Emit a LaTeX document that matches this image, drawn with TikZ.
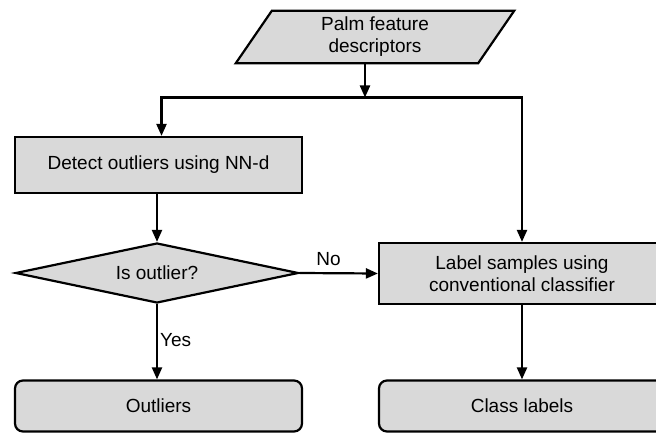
\documentclass[tikz,border=0pt]{standalone}
\usepackage{fontspec}
\setmainfont{Liberation Sans}
\usetikzlibrary{arrows.meta,shapes.geometric,backgrounds}
\definecolor{boxgray}{HTML}{D9D9D9}
\begin{document}
\begin{tikzpicture}[x=1pt,y=-1pt,
  font=\fontsize{19}{22}\selectfont,
  line/.style={line width=2.2pt, draw=black},
  arr/.style={line, -{Triangle[length=12pt,width=10pt]}},
  procbox/.style={line, fill=boxgray, rectangle, inner sep=0pt, align=center},
  termbox/.style={procbox, rounded corners=8pt},
  decision/.style={line, fill=boxgray, diamond, inner sep=0pt, minimum width=283pt, minimum height=60pt, aspect=4.7},
  lbl/.style={inner sep=2pt}]
\useasboundingbox (0,0) rectangle (656,433);
\clip (0,0) rectangle (656,433);

% input data (parallelogram outline drawn behind the text)
\node (src) [inner sep=0pt, minimum width=242pt, minimum height=52pt, align=center] at (375,37) {Palm feature\\descriptors};
\begin{scope}[on background layer]
  \draw[line, fill=boxgray, line join=miter]
    ([xshift=-18pt]src.south west) -- ([xshift=18pt]src.north west) --
    ([xshift=18pt]src.north east) -- ([xshift=-18pt]src.south east) -- cycle;
\end{scope}

% processing steps
\node (detect) [procbox, minimum width=287pt, minimum height=56pt] at (158.5,165) {Detect outliers using NN-d};
\node (dec) [decision] at (157,273) {Is outlier?};
\node (label) [procbox, minimum width=286pt, minimum height=61pt] at (522,273.5) {Label samples using\\conventional classifier};

% results
\node (out) [termbox, minimum width=287pt, minimum height=51pt] at (158.5,406) {Outliers};
\node (cls) [termbox, minimum width=286pt, minimum height=51pt] at (522,406) {Class labels};

% connectors
\coordinate (split) at (365,97.5);
\draw[arr] ([xshift=-10pt]src.south) -- (split);
\draw[arr] (split) -| ([xshift=3pt]detect.north);
\draw[arr] (split) -| (label.north);
\draw[arr] (detect.south -| dec.north) -- (dec.north);
\draw[arr] (dec.east) -- node[lbl, above, pos=0.37, yshift=4pt] {No} (label.west);
\draw[arr] (dec.south) -- node[lbl, right, pos=0.48] {Yes} (dec.south |- out.north);
\draw[arr] (label.south) -- (cls.north);
\end{tikzpicture}
\end{document}
